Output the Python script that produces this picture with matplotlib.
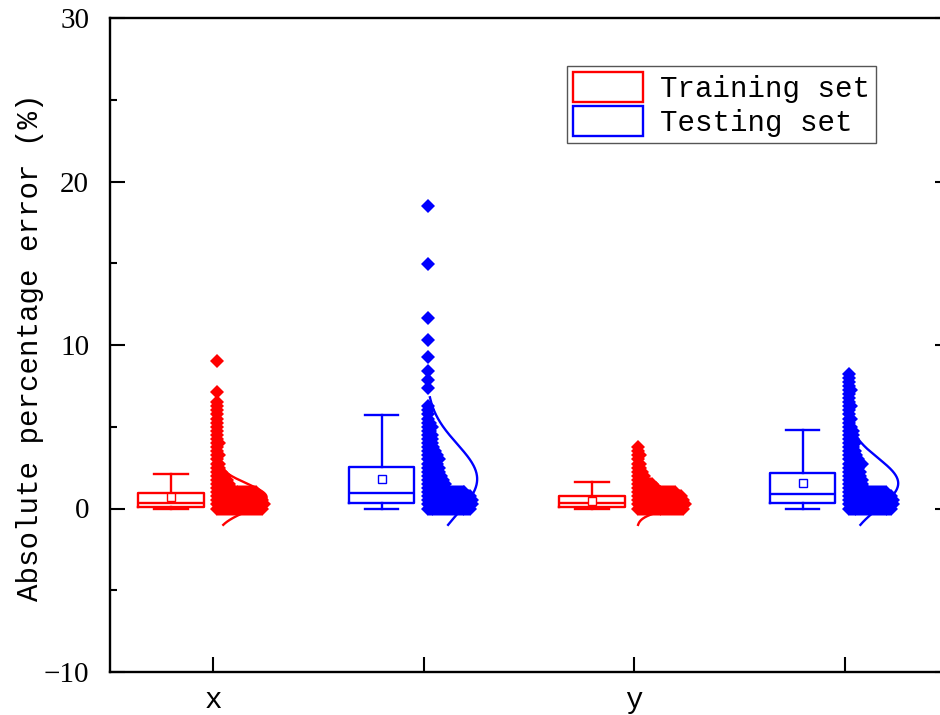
import numpy as np
import matplotlib
matplotlib.use('Agg')
import matplotlib.pyplot as plt
from matplotlib.patches import Rectangle
from matplotlib.ticker import MultipleLocator, FixedLocator

# ---------------- data ----------------
tick_labels = ['x', '', 'y', '']
series_names = ['Training set', 'Testing set']
y_label = 'Absolute percentage error (%)'

# order of boxes: x-train, x-test, y-train, y-test
box_whislo = [0.0, 0.0, 0.0, 0.0]
box_q1 = [0.12, 0.34, 0.08, 0.36]
box_med = [0.36, 0.93, 0.31, 0.89]
box_q3 = [0.94, 2.55, 0.74, 2.16]
box_whishi = [2.10, 5.72, 1.60, 4.80]
box_mean = [0.68, 1.80, 0.47, 1.54]
dist_sd = [0.85, 2.14, 0.52, 1.53]
dist_lo = [-1.0, -1.0, -1.0, -1.0]
dist_hi = [2.8, 6.8, 2.3, 4.6]

# binned data points (bin step 0.25 starting at 0): number of points per bin
bin_step = 0.25
counts_x_train = [24, 25, 24, 23, 21, 8, 7, 6, 5, 3, 2,
                  2, 1, 2, 1, 1, 2, 1, 1, 1, 1, 1, 1, 1, 1, 1, 1]
counts_x_test = [23, 24, 24, 23, 20, 10, 10, 9, 8, 7, 7, 6, 7, 6, 5, 4,
                 3, 3, 3, 2, 3, 2, 1, 1, 1, 1]
counts_y_train = [24, 25, 24, 23, 20, 10, 8, 4, 4, 3, 2, 2, 1, 2, 1, 1]
counts_y_test = [23, 24, 24, 23, 20, 9, 8, 8, 7, 7, 6, 8, 6, 5, 4, 3, 4, 3, 3, 3, 2,
                 1, 2, 1, 1, 2, 1, 1, 1, 2, 1, 1, 1, 1]
# isolated high points
outliers_x_train = [7.15, 9.0]
outliers_x_test = [7.35, 7.86, 8.41, 9.25, 10.3, 11.63, 14.95, 18.52]
outliers_y_train = []
outliers_y_test = []

all_counts = [counts_x_train, counts_x_test, counts_y_train, counts_y_test]
all_outliers = [outliers_x_train, outliers_x_test, outliers_y_train, outliers_y_test]

# ---------------- style ----------------
colors = ['#FF0000', '#0000FF', '#FF0000', '#0000FF']
MONO = 'Liberation Mono'
SERIF = 'Liberation Serif'
FS = 21

fig = plt.figure(figsize=(9.4, 7.15), dpi=100)
ax = fig.add_axes([110 / 940, 43 / 715, 840 / 940, 654 / 715])

positions = [1, 2, 3, 4]
box_off = -0.2
pt_off = 0.019
pt_dx = 0.0092
curve_base = 0.014
curve_amp = 0.24

for k, pos in enumerate(positions):
    c = colors[k]
    stats = [dict(whislo=box_whislo[k], q1=box_q1[k], med=box_med[k], q3=box_q3[k],
                  whishi=box_whishi[k], mean=box_mean[k], fliers=[])]
    ax.bxp(stats, positions=[pos + box_off], widths=0.31, capwidths=0.16,
           showmeans=True, showfliers=False, manage_ticks=False,
           boxprops=dict(color=c, lw=1.7),
           whiskerprops=dict(color=c, lw=1.7),
           capprops=dict(color=c, lw=1.7),
           medianprops=dict(color=c, lw=1.7),
           meanprops=dict(marker='s', markerfacecolor='white', markeredgecolor=c,
                          markersize=5.5, markeredgewidth=1.0))
    # distribution curve
    yy = np.linspace(dist_lo[k], dist_hi[k], 300)
    xx = pos + curve_base + curve_amp * np.exp(-(yy - box_mean[k]) ** 2 / (2 * dist_sd[k] ** 2))
    ax.plot(xx, yy, color=c, lw=1.7, zorder=3)
    # data points arranged in bins
    px, py = [], []
    for b, n in enumerate(all_counts[k]):
        for i in range(n):
            px.append(pos + pt_off + pt_dx * i)
            py.append(b * bin_step)
    for v in all_outliers[k]:
        px.append(pos + pt_off)
        py.append(v)
    ax.plot(px, py, linestyle='none', marker='D', markersize=7.4, color=c,
            markeredgewidth=0, zorder=4)

ax.set_xlim(0.51, 4.5)
ax.set_ylim(-10, 30)
ax.xaxis.set_major_locator(FixedLocator(positions))
ax.set_xticklabels(tick_labels, fontfamily=MONO, fontsize=FS)
ax.yaxis.set_major_locator(MultipleLocator(10))
ax.yaxis.set_minor_locator(MultipleLocator(5))
for lab in ax.get_yticklabels():
    lab.set_fontfamily(SERIF)
    lab.set_fontsize(FS)
ax.tick_params(axis='y', which='major', direction='in', length=11, width=1.5,
               left=True, right=True, pad=15)
ax.tick_params(axis='y', which='minor', direction='in', length=5, width=1.5,
               left=True, right=True)
ax.tick_params(axis='x', which='major', direction='in', length=11, width=1.5,
               bottom=True, top=False, pad=10)
for s in ax.spines.values():
    s.set_linewidth(1.7)

fig.text(30 / 940, 1 - 347 / 715, y_label, rotation=90, ha='center', va='center',
         fontfamily=MONO, fontsize=FS)

handles = [Rectangle((0, 0), 1, 1, facecolor='none', edgecolor=colors[0], lw=1.7),
           Rectangle((0, 0), 1, 1, facecolor='none', edgecolor=colors[1], lw=1.7)]
leg = ax.legend(handles, series_names, loc='upper left',
                bbox_to_anchor=(567 / 940, 1 - 66 / 715), bbox_transform=fig.transFigure,
                borderaxespad=0, prop=dict(family=MONO, size=FS),
                handlelength=2.4, handleheight=1.2, handletextpad=0.6,
                labelspacing=0.12, borderpad=0.2, fancybox=False, framealpha=1)
leg.get_frame().set_edgecolor('#555555')
leg.get_frame().set_linewidth(1.0)

fig.savefig('out.png', dpi=100)
